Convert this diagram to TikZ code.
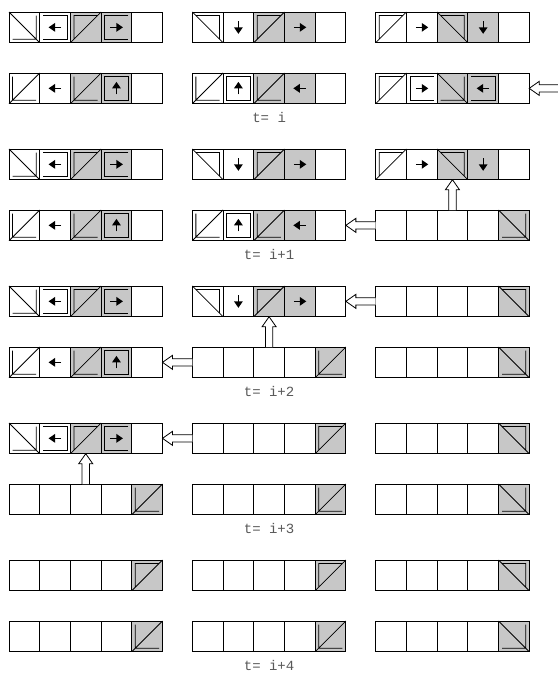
\documentclass[tikz,border=0pt]{standalone}
\usepackage{fontspec}
\newfontfamily\labfont{Liberation Mono}
\usetikzlibrary{arrows.meta,positioning,calc}
\definecolor{shade}{gray}{0.78}

% cell glyphs: diagonal mirrors with an inset corner
\newcommand{\dgA}[1]{\draw[glyph] (#1.north west) -- (#1.south east)
  ([shift={(-3.5,-3.5)}]#1.north east) |- ([shift={(3.5,3.5)}]#1.south west);}
\newcommand{\dgB}[1]{\draw[glyph] (#1.north west) -- (#1.south east)
  ([shift={(3.5,-3.5)}]#1.north west) -| ([shift={(-3.5,3.5)}]#1.south east);}
\newcommand{\dgC}[1]{\draw[glyph] (#1.south west) -- (#1.north east)
  ([shift={(3.5,-3.5)}]#1.north west) |- ([shift={(-3.5,3.5)}]#1.south east);}
\newcommand{\dgD}[1]{\draw[glyph] (#1.south west) -- (#1.north east)
  ([shift={(3.5,3.5)}]#1.south west) |- ([shift={(-3.5,-3.5)}]#1.north east);}
% small arrows, plain / bracketed / boxed
\newcommand{\arr}[2]{\draw[pointer] ([shift={(#2:-6)}]#1.center) -- ([shift={(#2:6.5)}]#1.center);}
\newcommand{\brl}[1]{\arr{#1}{180}\draw[glyph] ([shift={(3.5,-3.5)}]#1.north west)
  -| ([shift={(-3.5,3.5)}]#1.south east) -- ([shift={(3.5,3.5)}]#1.south west);}
\newcommand{\brr}[1]{\arr{#1}{0}\draw[glyph] ([shift={(-3.5,-3.5)}]#1.north east)
  -| ([shift={(3.5,3.5)}]#1.south west) -- ([shift={(-3.5,3.5)}]#1.south east);}
\newcommand{\boxar}[2]{\arr{#1}{#2}\draw[glyph] ([shift={(3.5,3.5)}]#1.south west)
  rectangle ([shift={(-3.5,-3.5)}]#1.north east);}
% strip contents
\newcommand{\stripP}[1]{\dgA{#11}\brl{#12}\dgD{#13}\brr{#14}}
\newcommand{\stripQ}[1]{\dgB{#11}\arr{#12}{-90}\dgD{#13}\arr{#14}{0}}
\newcommand{\stripR}[1]{\dgD{#11}\arr{#12}{0}\dgB{#13}\arr{#14}{-90}}
\newcommand{\stripS}[1]{\dgC{#11}\arr{#12}{180}\dgC{#13}\boxar{#14}{90}}
\newcommand{\stripT}[1]{\dgC{#11}\boxar{#12}{90}\dgC{#13}\arr{#14}{180}}
\newcommand{\stripU}[1]{\dgD{#11}\brr{#12}\dgA{#13}\brl{#14}}

\begin{document}
\begin{tikzpicture}[x=1pt, y=1pt,
  cell/.style={draw, fill=white, line width=0.8pt, anchor=north west,
               minimum size=30.7pt, inner sep=0pt, outer sep=0pt},
  shaded/.style={draw, fill=shade, line width=0.8pt},
  glyph/.style={line width=0.8pt},
  pointer/.style={line width=1.3pt, -{Triangle[length=6.5pt, width=8.5pt]}},
  lab/.style={font=\labfont\fontsize{14}{14}\selectfont, text=black!65, inner sep=0pt},
  hollow/.style={draw, fill=white, line width=0.8pt, to path={
    ($(\tikztostart)!3.7pt!90:(\tikztotarget)$)
    -- ($($(\tikztotarget)!10pt!(\tikztostart)$)!3.7pt!90:(\tikztotarget)$)
    -- ($($(\tikztotarget)!10pt!(\tikztostart)$)!7pt!90:(\tikztotarget)$)
    -- (\tikztotarget)
    -- ($($(\tikztotarget)!10pt!(\tikztostart)$)!7pt!-90:(\tikztotarget)$)
    -- ($($(\tikztotarget)!10pt!(\tikztostart)$)!3.7pt!-90:(\tikztotarget)$)
    -- ($(\tikztostart)!3.7pt!-90:(\tikztotarget)$)}},
]
\useasboundingbox (0,0) rectangle (557,-680);

% strips: u/d = upper/lower row, then time step, column, cell
\foreach \t in {0,...,4}
  \foreach \h/\dy in {u/0,d/61}
    \foreach \c/\x in {1/9,2/192.35,3/375.7}
      \foreach \k in {1,...,5}
        \node[cell] (\h\t\c\k) at ({\x+(\k-1)*30.7},{-(12+137*\t+\dy)}) {};

\foreach \n in {u013,u014,u023,u024,u033,u034,d013,d014,d023,d024,d033,d034,
                u113,u114,u123,u124,u133,u134,d113,d114,d123,d124,d135,
                u213,u214,u223,u224,u235,d213,d214,d225,d235,
                u313,u314,u325,u335,d315,d325,d335,
                u415,u425,u435,d415,d425,d435}
  \draw[shaded] (\n.north west) rectangle (\n.south east);

% t = i
\stripP{u01} \stripQ{u02} \stripR{u03}
\stripS{d01} \stripT{d02} \stripU{d03}
% t = i+1
\stripP{u11} \stripQ{u12} \stripR{u13}
\stripS{d11} \stripT{d12} \dgA{d135}
% t = i+2
\stripP{u21} \stripQ{u22} \dgB{u235}
\stripS{d21} \dgC{d225} \dgA{d235}
% t = i+3
\stripP{u31} \dgD{u325} \dgB{u335}
\dgC{d315} \dgC{d325} \dgA{d335}
% t = i+4
\dgD{u415} \dgD{u425} \dgB{u435}
\dgC{d415} \dgC{d425} \dgA{d435}

\coordinate (feed) at ([xshift=30pt]d035.east);
\draw[hollow] (feed) to (d035.east);
\draw[hollow] (d131.west) to (d125.east);
\draw[hollow] (d133.north) to (u133.south);
\draw[hollow] (u231.west) to (u225.east);
\draw[hollow] (d221.west) to (d215.east);
\draw[hollow] (d223.north) to (u223.south);
\draw[hollow] (u321.west) to (u315.east);
\draw[hollow] (d313.north) to (u313.south);

\node[lab, below=8pt of d023] (lab0) {t= i};
\node[lab, below=8pt of d123] (lab1) {t= i+1};
\node[lab, below=8pt of d223] (lab2) {t= i+2};
\node[lab, below=8pt of d323] (lab3) {t= i+3};
\node[lab, below=8pt of d423] (lab4) {t= i+4};
\end{tikzpicture}
\end{document}
